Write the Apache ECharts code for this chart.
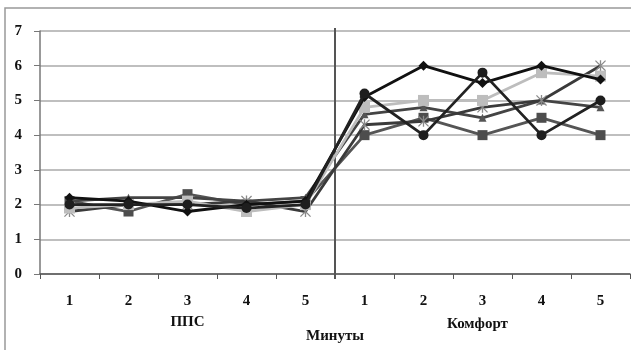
<!DOCTYPE html>
<html><head><meta charset="utf-8">
<script src="https://cdn.jsdelivr.net/npm/echarts@6/dist/echarts.min.js"></script>
<style>html,body{margin:0;padding:0;background:#fff}#c{width:631px;height:350px}</style>
</head><body><div id="c"></div>
<script>
var categories = ['1','2','3','4','5','1','2','3','4','5'];
var yTicks = [0,1,2,3,4,5,6,7];
var groupLabels = ['ППС','Комфорт'];
var axisTitle = 'Минуты';
var sDiamond = [2.2, 2.1, 1.8, 2.0, 2.1, 5.1, 6.0, 5.5, 6.0, 5.6];
var sCircle = [2.0, 2.0, 2.0, 1.9, 2.0, 5.2, 4.0, 5.8, 4.0, 5.0];
var sDarkSquare = [2.1, 1.8, 2.3, 2.0, 2.1, 4.0, 4.5, 4.0, 4.5, 4.0];
var sLightSquare = [1.9, 2.0, 2.1, 1.8, 2.0, 4.8, 5.0, 5.0, 5.8, 5.7];
var sTriangle = [2.1, 2.2, 2.2, 2.1, 2.2, 4.6, 4.8, 4.5, 5.0, 4.8];
var sAsterisk = [1.8, 2.0, 2.0, 2.1, 1.8, 4.3, 4.4, 4.8, 5.0, 6.0];

var asteriskPath = 'path://M4.4,0L5.6,0L5.6,10L4.4,10Z M0,0.8L0.8,0L10,9.2L9.2,10Z M9.2,0L10,0.8L0.8,10L0,9.2Z';
var font = '"Liberation Serif", "Times New Roman", serif';

function mk(name, data, color, symbol, size, lineColor, z) {
  return {
    name: name, type: 'line', data: data, symbol: symbol, symbolSize: size,
    showAllSymbol: true, z: z,
    lineStyle: {color: lineColor || color, width: 2.8},
    itemStyle: {color: color, borderWidth: 0},
    emphasis: {disabled: true}, animation: false
  };
}

var chart = echarts.init(document.getElementById('c'), null, {renderer: 'canvas'});
var option = {
  animation: false,
  grid: {left: 40, right: 1, top: 31, bottom: 76, containLabel: false},
  xAxis: [{
    type: 'category', data: categories, boundaryGap: true,
    axisLine: {lineStyle: {color: '#555', width: 1.5}},
    axisTick: {show: true, interval: 0, length: 5, lineStyle: {color: '#555'}},
    axisLabel: {interval: 0, margin: 20, fontFamily: font, fontWeight: 'bold', fontSize: 15, color: '#111'},
    name: axisTitle, nameLocation: 'middle', nameGap: 55,
    nameTextStyle: {fontFamily: font, fontWeight: 'bold', fontSize: 15, color: '#111'},
    splitLine: {show: false}
  }, {
    type: 'value', min: 0, max: 10, show: false
  }],
  yAxis: {
    type: 'value', min: 0, max: 7, interval: 1,
    axisLine: {show: true, lineStyle: {color: '#777', width: 1.5}},
    axisTick: {show: true, length: 6, inside: false, lineStyle: {color: '#777'}},
    axisLabel: {margin: 18, fontFamily: font, fontWeight: 'bold', fontSize: 15, color: '#111',
      formatter: function (v) { return yTicks.indexOf(v) >= 0 ? String(v) : ''; }},
    splitLine: {lineStyle: {color: '#aaa', width: 1.5}}
  },
  series: [
    mk('Dark square', sDarkSquare, '#4d4d4d', 'rect', 10, '#555', 3),
    mk('Triangle', sTriangle, '#555', 'triangle', 8, '#444', 3),
    mk('Asterisk', sAsterisk, '#8a8a8a', asteriskPath, 11, '#3a3a3a', 4),
    mk('Light square', sLightSquare, '#bdbdbd', 'rect', 11, '#bdbdbd', 5),
    mk('Diamond', sDiamond, '#111', 'diamond', 10, '#111', 6),
    mk('Circle', sCircle, '#1e1e1e', 'circle', 10, '#222', 7),
    {type: 'line', xAxisIndex: 1, data: [], silent: true}
  ]
};
chart.setOption(option);
var p1 = chart.convertToPixel({xAxisIndex: 0}, 2);
var p2 = chart.convertToPixel({xAxisIndex: 0}, 7);
var sepX = chart.convertToPixel({xAxisIndex: 1}, 5);
var yTop = chart.convertToPixel({yAxisIndex: 0}, 7);
var yBot = chart.convertToPixel({yAxisIndex: 0}, 0);
chart.setOption({graphic: [
  {type: 'rect', shape: {x: 5, y: 8, width: 640, height: 360}, style: {fill: 'none', stroke: '#999', lineWidth: 1.5}, silent: true},
  {type: 'line', shape: {x1: sepX, y1: yTop - 3, x2: sepX, y2: yBot + 5}, style: {stroke: '#555', lineWidth: 2}, z: 1, silent: true},
  {type: 'text', x: p1, y: 315, style: {text: groupLabels[0], font: 'bold 15px ' + font, fill: '#111', textAlign: 'center'}},
  {type: 'text', x: p2 - 5, y: 317, style: {text: groupLabels[1], font: 'bold 15px ' + font, fill: '#111', textAlign: 'center'}}
]});
</script></body></html>
